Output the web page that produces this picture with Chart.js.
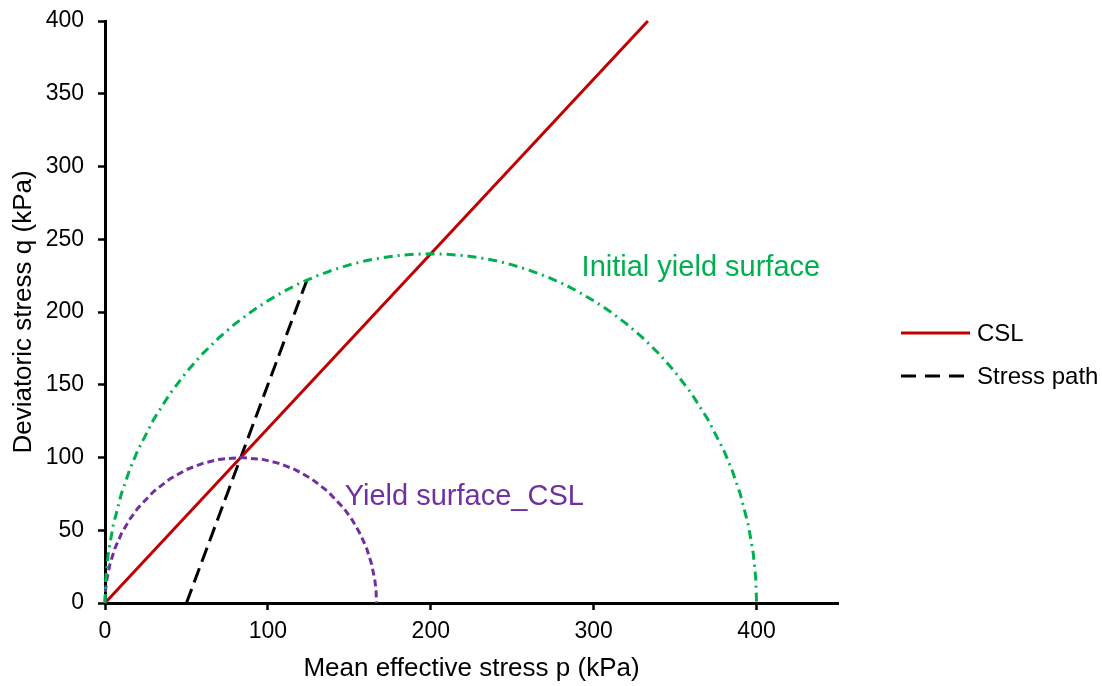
<!DOCTYPE html>
<html>
<head>
<meta charset="utf-8">
<script src="https://cdn.jsdelivr.net/npm/chart.js@4/dist/chart.umd.min.js"></script>
<style>
  html, body { margin: 0; padding: 0; background: #fff; }
  #wrap { width: 1102px; height: 686px; position: relative; }
</style>
</head>
<body>
<div id="wrap"><canvas id="chart"></canvas></div>
<script>
// values (kPa)
const xTicks = [0, 100, 200, 300, 400];

const pCSL = [0, 333.3];
const qCSL = [0, 400];

const pPath = [50, 124];
const qPath = [0, 222];

const pInit = [0, 0.5, 2, 5, 10, 15, 20, 30, 40, 50, 60, 70, 80, 90, 100, 110, 120, 130, 140, 150, 160, 170, 180, 190, 200,
  210, 220, 230, 240, 250, 260, 270, 280, 290, 300, 310, 320, 330, 340, 350, 360, 370, 380, 385, 390, 395, 398, 399.5, 400];
const qInit = [0, 17.0, 33.9, 53.3, 74.9, 91.2, 104.6, 126.4, 144.0, 158.7, 171.4, 182.4, 192.0, 200.4, 207.8, 214.3, 220.0, 224.8, 228.9, 232.4, 235.2, 237.3, 238.8, 239.7, 240,
  239.7, 238.8, 237.3, 235.2, 232.4, 228.9, 224.8, 220.0, 214.3, 207.8, 200.4, 192.0, 182.4, 171.4, 158.7, 144.0, 126.4, 104.6, 91.2, 74.9, 53.3, 33.9, 17.0, 0];

const pSmall = [0, 0.3, 1, 3, 6, 10, 15, 20, 30, 40, 50, 60, 70, 83.3, 96.7, 106.7, 116.7, 126.7, 136.7, 146.7, 151.7, 156.7, 160.7, 163.7, 165.7, 166.4, 166.7];
const qSmall = [0, 8.5, 15.4, 26.6, 37.3, 47.5, 57.2, 65.0, 76.8, 85.4, 91.7, 96.0, 98.7, 100, 98.7, 96.0, 91.7, 85.4, 76.8, 65.0, 57.2, 47.5, 37.3, 26.6, 15.4, 8.5, 0];

const toPoints = (xs, ys) => xs.map((x, i) => ({ x: x, y: ys[i] }));

const FONT = "'Liberation Sans', Arial, sans-serif";

// curve labels, anchored in data units
const notes = [
  { text: 'Initial yield surface', p: 292.6, q: 224.7, color: '#00B050' },
  { text: 'Yield surface_CSL', p: 147.2, q: 67.4, color: '#7030A0' }
];

const notesPlugin = {
  id: 'notes',
  afterDatasetsDraw(chart) {
    const ctx = chart.ctx;
    const xs = chart.scales.x, ys = chart.scales.y;
    ctx.save();
    ctx.font = '29px ' + FONT;
    ctx.textBaseline = 'alphabetic';
    ctx.textAlign = 'left';
    notes.forEach(n => {
      ctx.fillStyle = n.color;
      ctx.fillText(n.text, xs.getPixelForValue(n.p), ys.getPixelForValue(n.q));
    });
    ctx.restore();
  }
};

// legend on the right, only for the two lines
const legendPlugin = {
  id: 'sideLegend',
  afterDraw(chart) {
    const ctx = chart.ctx;
    const items = chart.data.datasets.filter(d => d.inLegend);
    const x0 = 901, x1 = 970, tx = 977;
    const rows = [333, 376];
    ctx.save();
    items.forEach((d, i) => {
      const y = rows[i];
      ctx.strokeStyle = d.borderColor;
      ctx.lineWidth = d.borderWidth;
      ctx.setLineDash(d.legendDash || []);
      ctx.beginPath();
      ctx.moveTo(x0, y);
      ctx.lineTo(x1, y);
      ctx.stroke();
      ctx.setLineDash([]);
      ctx.fillStyle = '#000';
      ctx.font = '24px ' + FONT;
      ctx.textBaseline = 'middle';
      ctx.fillText(d.label, tx, y + 1);
    });
    ctx.restore();
  }
};

// keep the plot box where the picture has it
const noEdgePad = scale => {
  scale.paddingTop = 0;
  scale.paddingBottom = 0;
  scale.paddingLeft = 0;
  scale.paddingRight = 0;
};

new Chart(document.getElementById('chart').getContext('2d'), {
  type: 'scatter',
  data: {
    datasets: [
      {
        label: 'Initial yield surface',
        data: toPoints(pInit, qInit),
        showLine: true,
        borderColor: '#00B050',
        borderWidth: 3,
        borderDash: [9, 5, 2, 5],
        pointRadius: 0,
        clip: false
      },
      {
        label: 'Yield surface_CSL',
        data: toPoints(pSmall, qSmall),
        showLine: true,
        borderColor: '#7030A0',
        borderWidth: 3,
        borderDash: [7, 4],
        pointRadius: 0,
        clip: false
      },
      {
        label: 'CSL',
        data: toPoints(pCSL, qCSL),
        showLine: true,
        borderColor: '#C00000',
        borderWidth: 3,
        pointRadius: 0,
        clip: false,
        inLegend: true
      },
      {
        label: 'Stress path',
        data: toPoints(pPath, qPath),
        showLine: true,
        borderColor: '#000000',
        borderWidth: 3,
        borderDash: [15, 7],
        legendDash: [15, 9],
        pointRadius: 0,
        clip: false,
        inLegend: true
      }
    ]
  },
  options: {
    responsive: true,
    maintainAspectRatio: false,
    animation: false,
    layout: { padding: { left: 0, right: 264, top: 21, bottom: 0 } },
    plugins: {
      legend: { display: false },
      tooltip: { enabled: false }
    },
    scales: {
      x: {
        type: 'linear',
        min: 0,
        max: 450,
        afterBuildTicks: axis => { axis.ticks = xTicks.map(v => ({ value: v })); },
        afterFit: scale => { scale.height = 83; noEdgePad(scale); },
        ticks: { color: '#000', font: { family: FONT, size: 23 }, padding: 8, maxRotation: 0 },
        grid: { display: true, drawOnChartArea: false, tickLength: 7, tickWidth: 2.5, tickColor: '#000' },
        border: { display: true, color: '#000', width: 3 },
        title: {
          display: true,
          text: 'Mean effective stress p (kPa)',
          color: '#000',
          font: { family: FONT, size: 26 },
          padding: { top: 0, bottom: 2 }
        }
      },
      y: {
        type: 'linear',
        min: 0,
        max: 400,
        afterFit: scale => { scale.width = 105; noEdgePad(scale); },
        ticks: { stepSize: 50, color: '#000', font: { family: FONT, size: 23 }, padding: 14 },
        grid: { display: true, drawOnChartArea: false, tickLength: 7, tickWidth: 2.5, tickColor: '#000' },
        border: { display: true, color: '#000', width: 3 },
        title: {
          display: true,
          text: 'Deviatoric stress q (kPa)',
          color: '#000',
          font: { family: FONT, size: 26 },
          padding: { top: 8, bottom: 0 }
        }
      }
    }
  },
  plugins: [notesPlugin, legendPlugin]
});
</script>
</body>
</html>
